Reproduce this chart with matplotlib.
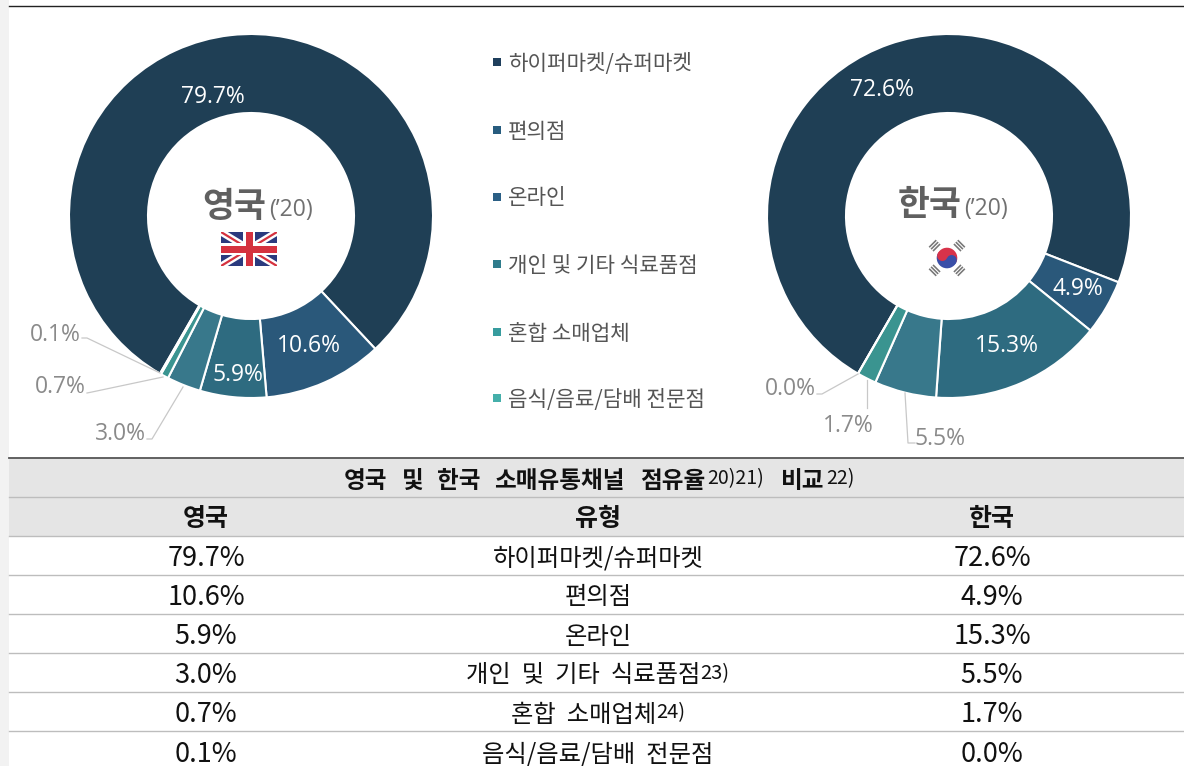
import math
import matplotlib
matplotlib.use("Agg")
import matplotlib.pyplot as plt
from matplotlib.patches import Rectangle, Circle, Wedge
from matplotlib.transforms import Affine2D

CJK = ['Noto Sans CJK KR', 'DejaVu Sans']
LAT = ['Open Sans', 'Noto Sans', 'DejaVu Sans']

categories = ['하이퍼마켓/슈퍼마켓', '편의점', '온라인', '개인 및 기타 식료품점', '혼합 소매업체', '음식/음료/담배 전문점']
table_notes = ['', '', '', '23)', '24)', '']
uk_values = [79.7, 10.6, 5.9, 3.0, 0.7, 0.1]
kr_values = [72.6, 4.9, 15.3, 5.5, 1.7, 0.0]
slice_colors = ['#1F3F55', '#2A587A', '#2E6B80', '#38788B', '#3A9490', '#45AFAA']
legend_colors = ['#1F3F5C', '#275C7E', '#2B5F85', '#2F7C8C', '#379C9E', '#45AFAA']

H = 766
def Y(y):
    return H - y

fig = plt.figure(figsize=(11.84, 7.66), dpi=100, facecolor='white')
ax = fig.add_axes([0, 0, 1, 1])

def donut(values, cx):
    ax.pie(values, colors=slice_colors, radius=182, center=(cx, Y(216)), startangle=240,
           counterclock=False, wedgeprops=dict(width=79, edgecolor='white', linewidth=1.5))

donut(uk_values, 251)
donut(kr_values, 949)
ax.set_xlim(0, 1184)
ax.set_ylim(0, H)
ax.set_aspect('auto')
ax.axis('off')

# page furniture
ax.add_patch(Rectangle((0, 0), 9, H, fc='#F2F2F2', ec='none', zorder=0))
ax.plot([9, 1184], [Y(6), Y(6)], color='#222222', lw=1)

def fmt(v):
    return f'{v:.1f}%'

def vlabel(v, x, y, color):
    ax.text(x, Y(y + 2), fmt(v), color=color, fontsize=16.5, ha='center', va='center', family=LAT, zorder=5)

GREY = '#8A8A8A'
for v, (x, y), c in zip(uk_values, [(213, 95), (309, 344), (238, 373), (120, 432), (60, 385), (55, 333)],
                        ['white', 'white', 'white', GREY, GREY, GREY]):
    vlabel(v, x, y, c)
for v, (x, y), c in zip(kr_values, [(882, 88), (1078, 287), (1007, 344), (940, 437), (848, 424), (790, 387)],
                        ['white', 'white', 'white', GREY, GREY, GREY]):
    vlabel(v, x, y, c)

leaders = [
    [(82, 338), (87, 338), (160, 373)],
    [(87, 393), (92, 392), (163, 377)],
    [(147, 439), (152, 439), (183, 387)],
    [(817, 394), (822, 394), (858, 374)],
    [(867, 408), (867, 380)],
    [(915, 443), (908, 443), (905, 393)],
]
for pts in leaders:
    ax.plot([p[0] for p in pts], [Y(p[1]) for p in pts], color='#C8C8C8', lw=0.9, zorder=4)

# centre titles
ax.text(234, Y(206), '영국', fontsize=25, fontweight='bold', color='#606060', ha='center', va='center', family=CJK)
ax.text(291, Y(210), '(’20)', fontsize=16.5, color='#707070', ha='center', va='center', family=LAT)
ax.text(930, Y(204), '한국', fontsize=25, fontweight='bold', color='#606060', ha='center', va='center', family=CJK)
ax.text(986, Y(209), '(’20)', fontsize=16.5, color='#707070', ha='center', va='center', family=LAT)

# UK flag
x0, x1, y0, y1 = 221, 277, Y(266), Y(232)
clip = Rectangle((x0, y0), x1 - x0, y1 - y0, transform=ax.transData)
ax.add_patch(Rectangle((x0, y0), x1 - x0, y1 - y0, fc='#2B3A7E', ec='none', zorder=3))
xm, ym = (x0 + x1) / 2, (y0 + y1) / 2
for (xs, ys) in [((x0, x1), (y0, y1)), ((x0, x1), (y1, y0))]:
    l1, = ax.plot(xs, ys, color='white', lw=5, zorder=3.1, solid_capstyle='butt')
    l2, = ax.plot(xs, ys, color='#D5323F', lw=1.6, zorder=3.2, solid_capstyle='butt')
    l1.set_clip_path(clip); l2.set_clip_path(clip)
ax.add_patch(Rectangle((x0, ym - 6), x1 - x0, 12, fc='white', ec='none', zorder=3.3))
ax.add_patch(Rectangle((xm - 6, y0), 12, y1 - y0, fc='white', ec='none', zorder=3.3))
ax.add_patch(Rectangle((x0, ym - 3.5), x1 - x0, 7, fc='#D5323F', ec='none', zorder=3.4))
ax.add_patch(Rectangle((xm - 3.5, y0), 7, y1 - y0, fc='#D5323F', ec='none', zorder=3.4))

# Korean flag
fx, fy, r = 947, Y(258), 10.3
rot = -25
ax.add_patch(Wedge((fx, fy), r, rot, rot + 180, fc='#D8334A', ec='none', zorder=3))
ax.add_patch(Wedge((fx, fy), r, rot + 180, rot + 360, fc='#3A4FA8', ec='none', zorder=3))
dx, dy = r / 2 * math.cos(math.radians(rot)), r / 2 * math.sin(math.radians(rot))
ax.add_patch(Circle((fx + dx, fy + dy), r / 2, fc='#3A4FA8', ec='none', zorder=3.1))
ax.add_patch(Circle((fx - dx, fy - dy), r / 2, fc='#D8334A', ec='none', zorder=3.1))
for ang in (45, 135, 225, 315):
    tr = Affine2D().rotate_deg(ang).translate(fx, fy) + ax.transData
    for k in (14, 16.7, 19.4):
        ax.add_patch(Rectangle((k, -5), 1.6, 10, fc='#777777', ec='none', transform=tr, zorder=3))

# legend
legend_y = [62, 130, 197, 264, 332, 398]
for name, c, y in zip(categories, legend_colors, legend_y):
    ax.add_patch(Rectangle((493, Y(y + 4)), 8, 8, fc=c, ec='none'))
    ax.text(508, Y(y + 1.5), name, fontsize=15.3, color='#555555', ha='left', va='center', family=CJK)

# table
ax.add_patch(Rectangle((9, Y(536)), 1175, 78, fc='#E5E5E5', ec='none', zorder=1))
ax.plot([9, 1184], [Y(458), Y(458)], color='#555555', lw=1.3, zorder=2)
for y in [497, 536, 575, 614, 653, 692, 731]:
    ax.plot([9, 1184], [Y(y), Y(y)], color='#BDBDBD', lw=1, zorder=2)

def seg(x, y, s, size, weight='normal', ha='left', color='#111111'):
    return ax.text(x, Y(y + 1.5), s, fontsize=size, fontweight=weight, color=color, ha=ha, va='center',
                   family=CJK, zorder=5)

for x, word in zip([344, 402, 437, 494, 640], ['영국', '및', '한국', '소매유통채널', '점유율']):
    seg(x, 479, word, 17, 'bold')
seg(707, 477, '20)21)', 14)
seg(781, 479, '비교', 17, 'bold')
seg(826, 477, '22)', 14)
seg(206, 517, '영국', 18, 'bold', 'center')
seg(598, 517, '유형', 18, 'bold', 'center')
seg(992, 517, '한국', 18, 'bold', 'center')

row_y = [557, 596, 635, 674, 713, 753]
for u, k, name, note, y in zip(uk_values, kr_values, categories, table_notes, row_y):
    seg(206, y, fmt(u), 19.5, 'normal', 'center')
    seg(992, y, fmt(k), 19.5, 'normal', 'center')
    label = name.replace(' ', '  ')
    if note:
        t = seg(598, y, label, 17.5, 'normal', 'left')
        fig.canvas.draw()
        w = t.get_window_extent().width
        n = seg(598, y - 2, note, 14.5)
        nw = n.get_window_extent().width
        left = 598 - (w + nw) / 2
        t.set_x(left)
        n.set_x(left + w)
    else:
        seg(598, y, label, 17.5, 'normal', 'center')

fig.savefig('out.png', dpi=100)
